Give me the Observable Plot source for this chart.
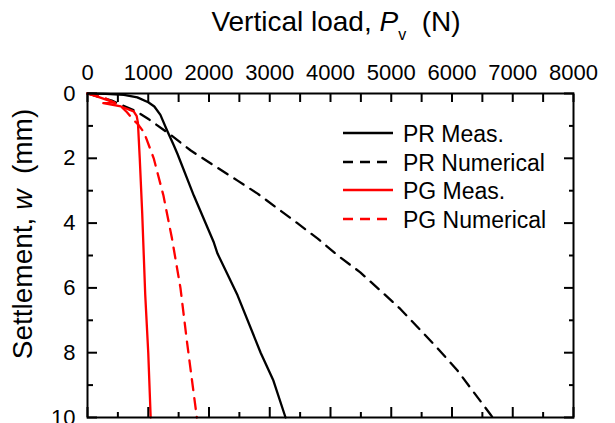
<!DOCTYPE html>
<html><head><meta charset="utf-8">
<script src="https://cdn.jsdelivr.net/npm/d3@7"></script>
<script src="https://cdn.jsdelivr.net/npm/@observablehq/plot@0.6"></script>
<style>html,body{margin:0;padding:0;background:#fff} svg{display:block}</style>
</head><body><div id="chart"></div>
<script>
// ---- data (vertical load in N, settlement in mm) ----
const prMeasLoad = [0, 300, 600, 820, 1000, 1100, 1200, 1310, 1420, 1480, 1750, 2080, 2140, 2470, 2850, 3060, 3260];
const prMeasW    = [0, 0.01, 0.04, 0.12, 0.27, 0.4, 0.66, 1.14, 1.6, 1.86, 3.15, 4.6, 4.94, 6.23, 8.0, 8.86, 10];
const prNumLoad  = [0, 400, 800, 990, 1350, 1700, 2080, 2470, 2800, 3130, 3460, 3790, 4120, 4490, 4820, 5150, 5480, 5780, 6090, 6350, 6630, 6670];
const prNumW     = [0, 0.22, 0.55, 0.77, 1.25, 1.76, 2.22, 2.69, 3.09, 3.55, 4.01, 4.48, 5.0, 5.52, 6.08, 6.65, 7.3, 7.9, 8.55, 9.2, 9.9, 10];
const pgMeasLoad = [0, 200, 450, 260, 550, 760, 810, 830, 860, 900, 950, 1000, 1040];
const pgMeasW    = [0, 0.12, 0.28, 0.3, 0.4, 0.55, 0.7, 0.9, 2.0, 3.67, 6.2, 8.0, 10];
const pgNumLoad  = [0, 300, 550, 650, 740, 830, 930, 1090, 1250, 1390, 1530, 1640, 1800];
const pgNumW     = [0, 0.15, 0.4, 0.58, 0.78, 0.95, 1.2, 2.0, 3.15, 4.47, 6.0, 7.7, 10];

const seriesNames = ["PR Meas.", "PR Numerical", "PG Meas.", "PG Numerical"];
const seriesColors = ["#000000", "#000000", "#ff0000", "#ff0000"];
const seriesDashed = [false, true, false, true];

const xMajor = [0, 1000, 2000, 3000, 4000, 5000, 6000, 7000, 8000];
const xAll   = [0, 500, 1000, 1500, 2000, 2500, 3000, 3500, 4000, 4500, 5000, 5500, 6000, 6500, 7000, 7500, 8000];
const xMinor = [500, 1500, 2500, 3500, 4500, 5500, 6500, 7500];
const yMajor = [0, 2, 4, 6, 8, 10];
const yMinor = [1, 3, 5, 7, 9];

const toRows = (L, W) => L.map((l, i) => ({load: l, w: W[i]}));
const seriesData = [
  toRows(prMeasLoad, prMeasW),
  toRows(prNumLoad, prNumW),
  toRows(pgMeasLoad, pgMeasW),
  toRows(pgNumLoad, pgNumW)
];

const FONT = "'Liberation Sans', Arial, Helvetica, sans-serif";
const DASH = "11,8";

const lineMarks = seriesData.map((d, i) => Plot.line(d, {
  x: "load", y: "w", stroke: seriesColors[i], strokeWidth: 2.3,
  strokeDasharray: seriesDashed[i] ? DASH : null, curve: "linear"
}));

const noText = {fill: "none", tickFormat: () => "", label: null, strokeWidth: 2};
const fmt = d => String(d);

const chart = Plot.plot({
  width: 615, height: 423,
  marginLeft: 87, marginRight: 42, marginTop: 93, marginBottom: 6,
  style: {fontFamily: FONT, background: "#fff", color: "#000"},
  x: {domain: [0, 8000], label: null},
  y: {domain: [0, 10], reverse: true, label: null},
  marks: [
    ...lineMarks,
    Plot.axisX(xAll, {anchor: "top", tickSize: -8, ...noText}),
    Plot.axisX(xMajor, {anchor: "top", tickSize: 0, tickPadding: 14, fontSize: 22, tickFormat: fmt, label: null}),
    Plot.axisX(xMajor, {anchor: "bottom", tickSize: -10, ...noText}),
    Plot.axisX(xMinor, {anchor: "bottom", tickSize: -5, ...noText}),
    Plot.axisY(yMajor, {anchor: "left", tickSize: -10, ...noText}),
    Plot.axisY(yMinor, {anchor: "left", tickSize: -6, ...noText}),
    Plot.axisY(yMajor, {anchor: "left", tickSize: 0, tickPadding: 12, fontSize: 22, tickFormat: fmt, label: null}),
    Plot.axisY(yMajor, {anchor: "right", tickSize: -10, ...noText}),
    Plot.axisY(yMinor, {anchor: "right", tickSize: -5, ...noText}),
    Plot.frame({stroke: "#000", strokeWidth: 2})
  ]
});

document.getElementById("chart").appendChild(chart);

// ---- title, y label, legend ----
const svg = d3.select(chart);
const title = svg.append("text")
  .attr("x", 336).attr("y", 31)
  .attr("text-anchor", "middle")
  .attr("font-family", FONT).attr("font-size", 28).attr("fill", "#000");
title.append("tspan").text("Vertical load, ");
title.append("tspan").attr("font-style", "italic").text("P");
title.append("tspan").attr("font-size", 16).attr("dy", 9).text("v");
title.append("tspan").attr("dy", -9).text("\u00a0\u00a0(N)");

const ylab = svg.append("text")
  .attr("transform", "translate(32,234) rotate(-90)")
  .attr("text-anchor", "middle")
  .attr("font-family", FONT).attr("font-size", 28).attr("fill", "#000");
ylab.append("tspan").text("Settlement, ");
ylab.append("tspan").attr("font-style", "italic").text("w");
ylab.append("tspan").text("\u00a0\u00a0(mm)");

const legY = [133, 162, 190, 219];
seriesNames.forEach((name, i) => {
  svg.append("line")
    .attr("x1", 343).attr("x2", 393).attr("y1", legY[i]).attr("y2", legY[i])
    .attr("stroke", seriesColors[i]).attr("stroke-width", 2.3)
    .attr("stroke-dasharray", seriesDashed[i] ? "10,7" : null);
  svg.append("text")
    .attr("x", 403).attr("y", legY[i] + 8.5)
    .attr("text-anchor", "start")
    .attr("font-family", FONT).attr("font-size", 23).attr("fill", "#000")
    .text(name);
});
</script>
</body></html>
